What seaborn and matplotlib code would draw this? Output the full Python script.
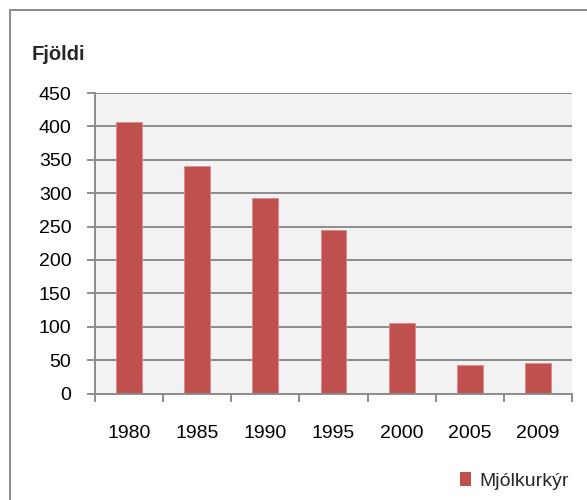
import matplotlib
matplotlib.use("Agg")
import matplotlib.pyplot as plt
import seaborn as sns
import pandas as pd
from matplotlib.patches import Patch, Rectangle

years = ["1980", "1985", "1990", "1995", "2000", "2005", "2009"]
values = [406, 340, 293, 245, 105, 43, 45]
series_name = "Mjólkurkýr"
y_label = "Fjöldi"
y_ticks = [0, 50, 100, 150, 200, 250, 300, 350, 400, 450]

sns.set_theme(style="white")
plt.rcParams["font.family"] = ["Liberation Sans", "DejaVu Sans"]

W, H = 587, 500
fig = plt.figure(figsize=(W / 100, H / 100), dpi=100)
fig.patch.set_facecolor("white")

L, R, T, B = 95, 572, 93, 393.5
ax = fig.add_axes([L / W, 1 - B / H, (R - L) / W, (B - T) / H])
ax.set_facecolor("#f2f2f2")

df = pd.DataFrame({"year": years, "value": values, "series": series_name})
sns.barplot(data=df, x="year", y="value", color="#c0504d", width=0.38,
            saturation=1, ax=ax, edgecolor="#d98c8a", linewidth=0.6)

ax.set_ylim(0, 450)
ax.set_xlim(-0.5, len(years) - 0.5)
ax.set_yticks(y_ticks)
ax.set_xlabel("")
ax.set_ylabel("")
ax.yaxis.grid(True, color="#8c8c8c", linewidth=1.4)
ax.xaxis.grid(False)
ax.set_axisbelow(True)
for s in ["top", "right"]:
    ax.spines[s].set_visible(False)
for s in ["left", "bottom"]:
    ax.spines[s].set_color("#8c8c8c")
    ax.spines[s].set_linewidth(1.4)

ax.tick_params(axis="y", length=6, width=1.4, color="#8c8c8c", pad=11, labelsize=14, labelcolor="black", left=True)
ax.tick_params(axis="x", which="major", length=0, pad=23, labelsize=14, labelcolor="black")
ax.set_xticks([i - 0.5 for i in range(len(years) + 1)], minor=True)
ax.tick_params(axis="x", which="minor", length=6, width=1.4, color="#8c8c8c", bottom=True)

fig.text(32 / W, 1 - 55 / H, y_label, fontsize=14.5, fontweight="bold", ha="left", va="center")

handles = [Patch(facecolor="#c0504d", edgecolor="none", label=series_name)]
fig.legend(handles=handles, loc="center right", bbox_to_anchor=(569 / W, 1 - 481 / H),
           frameon=False, fontsize=14, handlelength=0.55, handleheight=0.7,
           handletextpad=0.45, borderaxespad=0, borderpad=0)

fig.add_artist(Rectangle((9.5 / W, -0.1), 1.2, 1 - 9.5 / H + 0.1, transform=fig.transFigure,
                         fill=False, edgecolor="#8c8c8c", linewidth=1.4))

fig.savefig("out.png", dpi=100)
